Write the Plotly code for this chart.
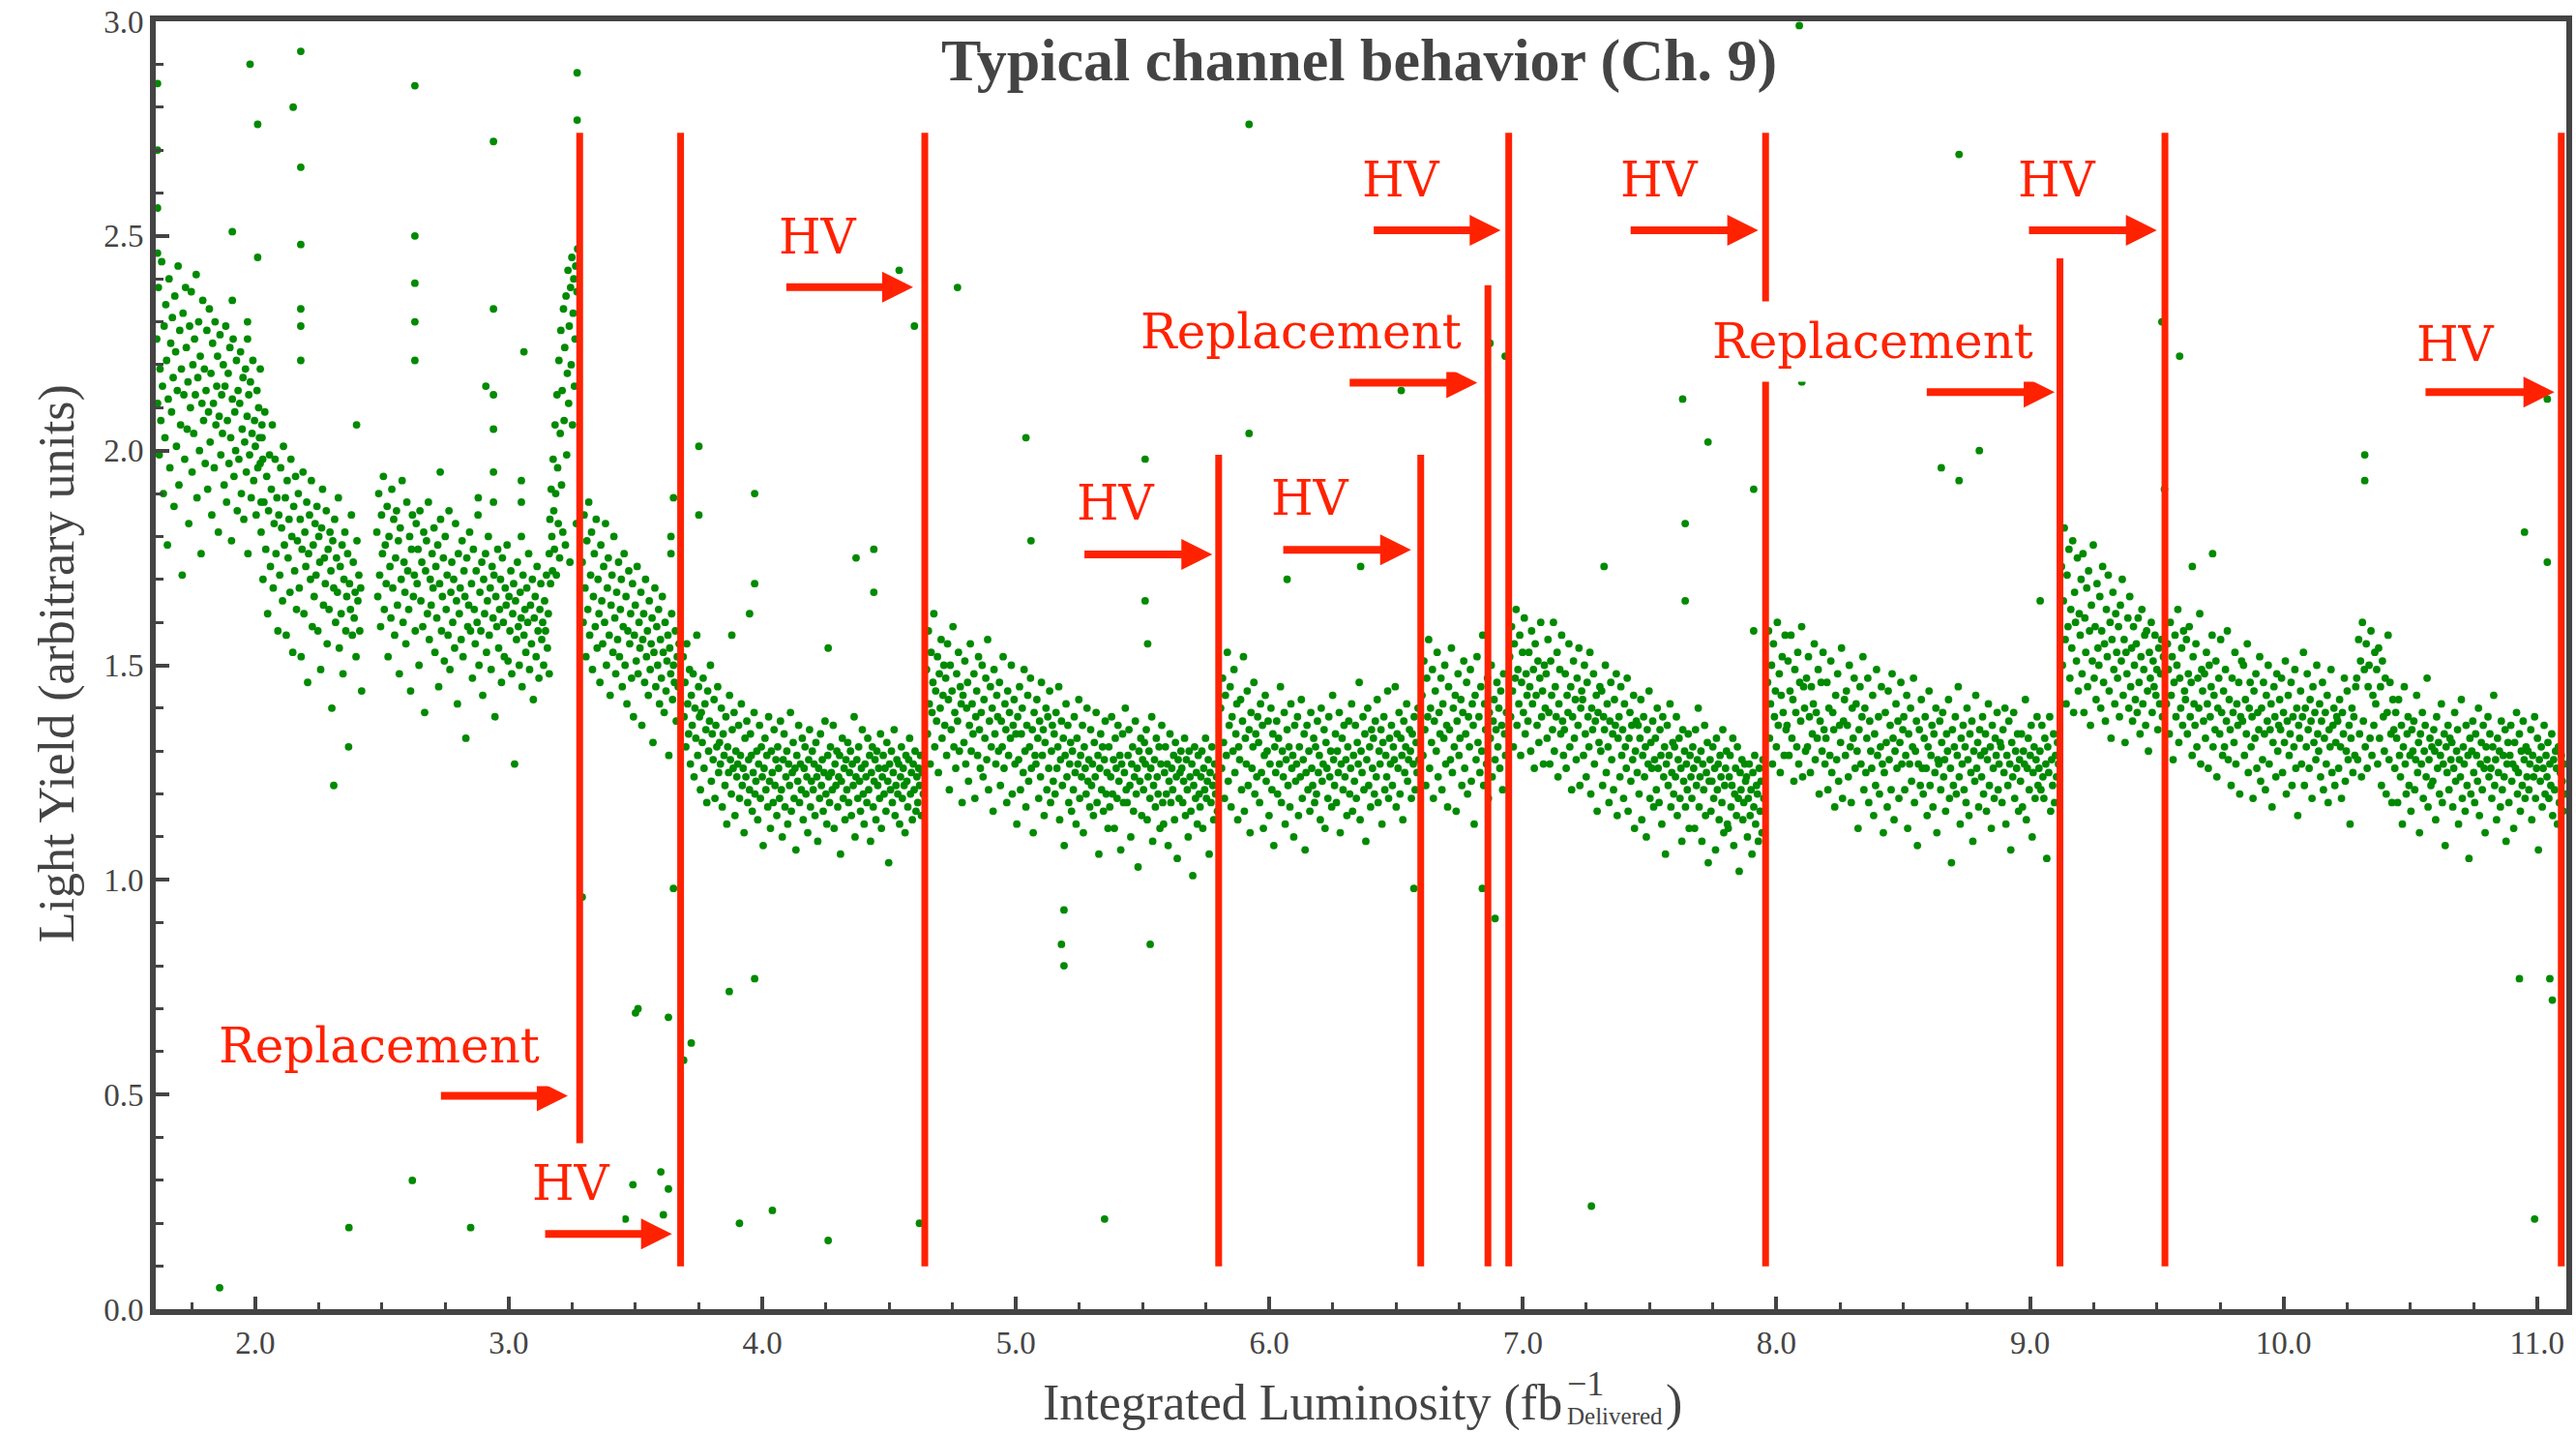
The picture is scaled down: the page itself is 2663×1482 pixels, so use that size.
import numpy as np
import plotly.graph_objects as go

# ---------------- data ----------------
# Main band: light-yield readings (in units of 0.01),
# one list per run segment; x is spread evenly between each segment's bounds.
seg_x0 = [1.612, 2.020, 2.480, 3.160, 3.290, 3.688, 4.648, 5.808, 6.602, 6.948, 7.965, 9.124, 9.538]
seg_x1 = [2.030, 2.420, 3.160, 3.272, 3.672, 4.635, 5.795, 6.590, 6.935, 7.950, 9.112, 9.526, 11.110]

y_A = [226,211,238,199,219,207,244,215,190,229,203,234,221,178,212,240,196,225,209,231,
       217,187,236,223,201,214,243,192,228,206,219,171,232,213,198,238,224,205,216,183,
       229,210,237,195,220,204,226,213,241,189,217,230,200,222,176,211,235,207,219,197,
       214,228,191,209,233,202,218,185,225,211,196,230,206,215,222,181,208,227,199,213,
       204,220,192,215,229,188,207,218,197,224,203,179,212,226,194,209,200,221,186,214,
       198,211,223,190,205,217,184,202,219,195,208,176,213,199,216,189,204,221,193,207,
       201,185,214,196,210,203,219,188,206,198]
y_B = [197,181,203,170,188,209,177,194,162,186,199,173,191,206,168,183,198,176,189,158,
       185,171,196,182,165,201,178,189,157,193,175,184,167,198,180,153,187,172,194,163,
       179,190,168,184,152,177,195,162,181,173,188,146,176,185,170,193,159,178,166,183,
       171,187,158,180,174,149,182,191,164,175,169,186,155,177,163,181,172,140,179,168,
       184,160,175,167,189,154,173,162,178,148,170,181,158,166,176,131,169,163,185,157,
       174,161,167,152,179,165,171,158,168,144]
y_C = [181,166,190,171,159,185,176,194,163,178,169,187,152,180,173,161,191,168,184,157,
       175,186,164,179,148,182,170,193,160,174,167,155,188,172,163,180,144,177,185,166,
       171,158,183,169,177,150,186,165,174,159,181,139,172,179,162,188,156,170,164,176,
       168,182,153,173,161,178,145,169,184,158,166,175,151,180,163,171,157,186,149,167,
       174,160,170,154,183,165,141,176,162,168,156,179,152,172,166,133,175,159,164,181,
       158,169,147,177,163,155,172,160,185,150,167,158,174,143,170,162,176,153,165,180,
       157,168,149,173,161,171,138,166,159,177,154,163,170,146,175,160,152,168,164,178,
       151,166,158,172,148,162,169,127,165,156,174,159,150,167,161,145,171,157,163,153,
       168,160,176,149,164,155,170,142,161,166,152,173,158,147,163,169,156,160,150,165,
       158,171,154,162,148]
y_C2 = [176,184,169,191,180,172,198,186,177,206,190,171,213,196,183,221,175,204,228,192,
        214,181,233,207,224,178,236,199,218,242,211,229,174,238,220,245,206,232,240,215,
        226,243,183,237,247]
y_D = [174,160,185,168,152,179,163,188,157,171,181,149,166,176,159,184,154,170,162,146,
       178,165,155,173,160,183,150,168,175,157,143,164,171,153,180,161,148,167,156,174,
       152,163,170,145,159,176,150,166,141,158,172,155,162,147,169,138,157,164,151,173,
       148,160,154,167,136,156,162,146,170,152,158,143,165,149,155,161,132,153,168,145,
       159,150,163,141,156,147,166,153,139,160,144,151,157,129,154,148,162,142,150,146,
       158,137,152,145,155]
y_E = [152,138,146,131,155,141,134,149,127,143,136,148,124,140,133,157,129,145,138,121,
       139,132,147,126,141,135,118,144,130,137,150,123,134,128,142,119,136,131,145,125,
       132,127,140,117,134,129,122,138,113,131,125,143,128,120,135,126,139,115,130,124,
       127,136,119,129,141,122,126,111,133,124,137,118,128,121,134,129,116,125,139,120,
       123,130,114,127,136,119,131,124,108,126,133,121,129,117,138,123,112,130,125,118,
       135,122,128,115,131,126,119,137,121,110,128,134,117,124,130,113,127,122,139,116,
       125,132,119,126,107,129,123,136,118,127,121,133,114,126,131,120,124,111,128,135,
       117,123,130,121,127,115,132,124,109,126,119,134,122,128,116,125,137,120,113,129,
       124,118,131,125,121,136,112,127,122,130,117,124,129,106,123,133,119,126,114,128,
       121,132,118,125,130,115,127,122,138,110,124,128,119,131,123,116,126,135,120,113,
       127,124,118,133,121,129,109,125,131,117,123,128,114,130,122,126,119,134,112,124,
       129,120,126,116,132,123,104,127,121,130,118,125,135,115,122,128,120,127,113,124,
       131,119,126,122,111,129,123,117,128,133,120,125,114,127,121,130,116,124,118,126,
       122,129,115,125,120]
y_F = [149,134,158,141,127,153,139,146,162,131,144,137,152,125,148,140,156,133,143,150,
       136,147,129,155,142,121,150,135,144,159,131,139,126,148,137,153,130,145,141,118,
       143,132,151,127,140,146,123,136,155,130,141,134,148,119,138,144,129,152,135,126,
       139,150,124,142,133,147,128,156,121,137,145,131,140,116,149,134,127,143,138,130,
       146,122,137,131,152,126,141,135,118,144,129,139,133,150,120,136,142,127,134,113,
       138,128,145,121,134,140,125,149,130,117,136,143,123,131,147,126,135,111,139,129,
       127,142,133,119,137,124,146,129,135,115,132,140,121,138,126,144,118,130,136,123,
       134,120,139,126,131,145,114,128,137,122,133,108,129,141,124,136,118,127,132,116,
       130,121,138,125,113,133,127,142,119,129,124,136,111,131,126,120,140,123,128,117,
       135,122,127,115,132,124,139,118,129,106,126,134,121,131,116,128,137,120,125,112,
       131,117,124,138,120,128,112,133,126,119,136,123,129,107,127,134,118,125,140,121,
       118,129,135,122,110,127,131,116,124,137,120,126,103,130,123,133,115,128,121,132,
       127,135,114,124,130,119,126,138,109,122,128,117,133,124,120,131,112,127,136,118,
       113,125,131,120,127,108,123,134,118,126,121,129,114,132,124,105,128,119,125,130,
       126,118,123,133,115,128,121,110,130,124,116,127,101,122,131,119,125,113,129,120,
       117,124,130,112,126,121,133,119,123,128,106,125,118,131,122,114,127,120,124,116]
y_G = [140,126,147,132,119,143,129,153,123,136,145,117,138,130,149,125,134,141,114,131,
       128,142,121,137,152,116,133,127,144,122,135,111,139,126,131,146,120,134,124,138,
       132,118,141,125,136,112,129,143,123,130,137,115,127,140,121,134,108,131,125,137,
       120,133,127,145,118,130,124,139,113,128,135,122,131,117,141,126,129,110,136,123,
       127,138,115,131,124,142,119,128,134,107,125,136,121,130,116,139,126,122,133,118,
       131,120,137,125,129,114,140,123,127,135,112,132,126,119,138,124,130,117,143,128,
       122,134,118,130,125,139,111,127,133,121,136,124,128,115,131,137,120,126,141,116,
       129,123,136,119,132,127,146,114,130,125,138,121,134,109,128,140,122,131,117,135,
       126,133,120,137,124,142,118,130,127,135,113,132,138,121,129,124,144,119,133,127,
       136,122,131,128,145,117,134,126,139,120,133,129,114,137,125,131,141,123,128,135,
       130,119,134,127,138,121,132,125,140,128]
y_H = [143,129,151,135,122,147,138,156,126,140,132,149,119,137,144,130,153,124,139,134,
       147,121,141,133,150,127,136,117,145,135,128,154,125,140,131,143,116,137,148,129,
       133,142,122,139,151,126,134,146,120,138,131,149,123,141,136,113,143,128,152,132,
       138,125,145,130,157,122,141,135,127,147,119,139,133,150,124,137,142,128,135,146,
       131,140,126,144,136,121,148,134,129,139]
y_I = [152,138,159,144,131,155,147,163,136,149,141,157,129,146,153,139,161,134,148,143,
       137,153,145,130,158,141,149,126,155,143,136,151,132,147,160,138,144,127,150,140,
       148,133,156,139,127,151,143,135,160,130,145,138,153,124,141,149,134,157,137,129,
       135,148,126,143,139,155,131,145,121,138,151,133,142,128,147,136,154,122,140,144,
       142,129,150,134,124,146,138,131,153,120,140,135,148,127,137,143,116,139,132,145,
       130,144,122,138,135,150,125,141,131,118,137,146,128,134,121,142,136,148,115,133,
       138,124,145,129,135,119,141,131,126,147,116,133,139,123,136,128,143,112,130,137,
       125,136,120,133,142,114,129,138,124,131,110,135,127,144,119,132,126,137,117,128,
       133,121,140,126,118,135,129,113,138,124,131,106,127,136,122,129,141,117,125,132,
       120,131,124,138,115,128,133,119,126,109,135,123,130,117,127,121,134,112,129,124,
       119,131,126,112,135,122,128,140,117,124,130,109,127,121,136,115,125,132,104,123,
       128,116,123,131,119,126,107,133,121,127,114,129,124,118,135,111,122,126,130,113,
       112,124,129,117,122,133,108,120,126,115,131,119,102,125,121,128,114,118,127,123,
       124,110,119,127,115,121,106,125,117,129,113,122,120,109,126,116,123,111,128,119]
y_J = [146,158,133,141,150,127,155,138,144,131,160,136,148,125,143,152,139,129,157,135,
       136,151,129,144,157,133,142,123,149,139,131,153,127,146,137,159,124,145,140,130,
       147,131,152,138,125,145,134,141,155,128,139,133,149,120,137,146,130,153,135,127,
       133,146,121,140,129,151,125,139,135,117,143,128,148,123,136,132,154,119,137,142,
       129,144,136,124,150,131,118,140,133,147,126,141,130,112,135,145,127,138,152,121,
       140,125,133,147,118,137,130,126,143,115,134,122,149,129,138,120,131,145,127,111,
       125,139,132,117,144,128,136,121,148,133,114,130,141,126,137,119,132,146,127,135,
       138,121,129,143,112,134,127,140,123,131,147,118,130,137,108,127,135,122,142,126,
       120,133,138,126,115,131,144,122,129,136,117,134,125,140,111,128,127,137,121,132,
       139,124,128,116,134,130,142,119,126,104,135,122,131,138,120,129,145,124,113,133,
       127,136,121,131,118,140,128,115,134,125,137,109,130,123,143,126,132,117,135,129,
       124,138,120,130,134,116,128,141,122,131,112,136,126,119,133,129,139,121,127,132,
       131,118,135,125,140,113,129,122,137,127,107,132,124,139,119,130,126,134,116,128,
       123,134,117,130,127,142,114,126,133,121,129,136,110,125,131,119,128,138,122,126,
       130,121,136,124,119,133,127,105,131,125,138,116,128,122,134,118,129,124,132,127]
y_K = [173,150,165,182,156,141,171,159,177,147,163,154,179,139,167,160,151,175,144,162,
       157,170,148,176,139,161,153,168,145,172,158,136,164,151,178,147,159,142,169,154,
       150,166,140,158,173,146,155,137,163,152,171,144,160,133,156,167,149,141,162,153,
       147,159,138,164,151,170,143,156,132,153,148,161,140,166,145,154,137,159,150,142,
       155,139,161,146,134,152,163,141,149,157,136,158,144,130,153,147,160,139,151,145,
       157,143,149,135,154,141,148,156,138,152]
y_L = [141,155,149,134,160,143,152,128,146,157,138,150,163,132,147,140,154,136,158,144,
       142,156,134,148,159,138,146,129,152,141,136,155,131,147,140,162,127,149,144,137,
       148,133,153,141,126,150,138,145,157,131,143,135,151,124,140,147,134,156,139,129,
       144,131,149,137,158,128,142,135,122,147,139,132,153,127,141,136,146,120,138,151,
       137,150,129,142,134,155,125,140,146,131,138,119,144,133,148,126,139,135,152,123,
       140,128,146,134,121,143,137,150,127,135,141,117,132,145,138,124,148,130,136,142,
       135,147,125,139,132,151,120,137,143,129,134,146,122,138,131,149,126,140,115,136,
       133,144,127,138,153,122,140,131,148,135,126,142,137,119,145,132,139,128,150,134,
       130,141,124,137,146,121,133,139,127,143,118,135,131,149,125,136,140,122,132,138,
       137,126,142,131,119,139,134,147,123,130,144,128,136,113,133,140,125,138,129,145,
       147,128,156,134,151,124,160,137,149,131,155,126,145,150,133,158,129,143,136,153,
       141,149,127,154,133,145,122,151,138,130,147,120,139,157,128,146,134,118,142,135,
       126,139,133,118,142,129,124,136,113,131,145,127,120,134,138,122,129,116,135,130,
       137,121,128,143,125,132,111,134,127,139,119,130,136,124,147,117,128,133,122,131,
       123,135,130,114,138,126,132,120,129,141,118,127,134,108,131,125,136,121,133,128,
       132,117,126,139,123,130,135,113,128,124,142,119,131,127,116,136,122,129,105,133,
       120,130,137,125,118,134,129,123,140,115,127,132,121,136,126,111,131,128,138,124,
       134,126,119,131,143,122,128,114,133,125,130,117,137,121,129,124,135,109,127,132,
       118,129,136,123,127,112,132,126,139,120,125,134,116,130,122,137,128,119,131,124,
       130,121,127,135,114,129,124,138,119,126,133,107,128,123,131,117,126,136,120,129,
       124,132,119,127,122,134,115,128,121,130,126,113,131,118,125,129,123,116,127,120]
segments_y = [y_A, y_B, y_C, y_C2, y_D, y_E, y_F, y_G, y_H, y_I, y_J, y_K, y_L]

# Isolated readings (outliers)
out_x = [1.615,1.615,1.615,1.615,1.98,2.18,2.01,2.15,2.63,3.27,3.27,2.94,2.18,1.91,2.63,2.18,2.01,2.63,2.94,
         2.18,1.91,2.63,2.18,1.97,1.97,2.63,2.18,3.06,2.91,2.94,2.94,2.73,2.94,2.94,2.88,3.05,3.05,3.05,
         2.40,3.75,3.75,3.97,3.97,3.95,3.88,4.37,4.44,4.44,4.26,3.65,3.64,3.64,4.60,4.54,2.31,4.77,5.04,
         5.51,5.06,5.92,5.92,6.36,6.07,6.52,6.87,6.93,7.63,7.73,7.64,7.91,8.10,8.09,8.65,8.72,8.80,9.52,
         9.59,9.53,10.32,10.32,10.95,11.04,11.04,5.51,5.52,7.64,7.32,7.91,9.04,9.72,9.64,8.72,
         3.29,3.51,3.65,1.86,2.37,2.62,2.85,3.49,3.46,3.60,3.63,3.61,3.91,4.04,4.26,3.50,3.63,3.72,
         3.69,3.87,3.97,4.62,5.18,5.19,5.35,5.53,7.27,6.89,5.19,6.84,6.57,10.93,11.05,11.06,10.99]
out_y = [2.855,2.70,2.565,2.46,2.90,2.93,2.76,2.80,2.85,2.88,2.77,2.72,2.66,2.51,2.50,2.48,2.45,2.39,2.33,
         2.33,2.35,2.30,2.29,2.30,2.26,2.21,2.21,2.23,2.15,2.13,2.05,1.95,1.95,1.88,1.89,1.93,1.88,1.80,
         2.06,2.01,1.85,1.90,1.69,1.62,1.57,1.75,1.77,1.67,1.54,1.89,1.80,1.76,2.29,2.42,1.22,2.38,2.03,
         1.98,1.79,2.04,2.76,1.73,1.70,2.14,2.25,2.22,2.12,2.02,1.83,1.91,2.16,2.99,1.96,2.69,2.00,2.30,
         2.22,1.91,1.99,1.93,1.81,2.12,1.74,1.65,1.55,1.65,1.73,1.58,1.65,1.76,1.73,1.93,
         0.96,0.70,0.98,0.05,0.19,0.30,0.19,0.29,0.21,0.32,0.28,0.22,0.20,0.23,0.16,0.69,0.68,0.62,
         0.58,0.74,0.77,0.20,0.85,0.80,0.21,0.85,0.24,0.91,0.93,0.98,0.98,0.77,0.77,0.72,0.21]

# Vertical markers (HV changes / replacements)
line_x      = [3.280, 3.678, 4.641, 5.800, 6.597, 6.862, 6.944, 7.957, 9.118, 9.532, 11.095]
line_top    = [2.74, 2.74, 2.74, 1.99, 1.99, 2.385, 2.74, 2.74, 2.448, 2.74, 2.74]
line_bottom = [0.385, 0.10, 0.10, 0.10, 0.10, 0.10, 0.10, 0.10, 0.10, 0.10, 0.10]

# Arrows and labels
arrow_tail_x = [2.727, 3.138, 4.089, 5.265, 6.049, 6.311, 6.406, 7.419, 8.587, 8.990, 10.554]
arrow_tip_x  = [3.233, 3.644, 4.595, 5.775, 6.559, 6.820, 6.912, 7.928, 9.097, 9.500, 11.068]
arrow_y      = [0.497, 0.175, 2.381, 1.758, 1.769, 2.158, 2.513, 2.513, 2.136, 2.513, 2.136]

label_text = ["Replacement", "HV", "HV", "HV", "HV", "Replacement", "HV", "HV", "Replacement", "HV", "HV"]
label_x    = [2.49, 3.248, 4.218, 5.394, 6.163, 6.125, 6.52, 7.54, 8.381, 9.105, 10.68]
label_y    = [0.612, 0.294, 2.498, 1.877, 1.889, 2.277, 2.63, 2.63, 2.253, 2.63, 2.248]

x_ticks = [2.0, 3.0, 4.0, 5.0, 6.0, 7.0, 8.0, 9.0, 10.0, 11.0]
y_ticks = [0.0, 0.5, 1.0, 1.5, 2.0, 2.5, 3.0]

# ---------------- figure ----------------
W, H = 2663, 1482
ML, MR, MT, MB = 161, 4, 22, 129
RED = "#ff2200"
GREEN = "#008a00"
AXC = "#444444"
SERIF = "Liberation Serif"
RSERIF = "DejaVu Serif"

band_x, band_y = [], []
for x0, x1, ys in zip(seg_x0, seg_x1, segments_y):
    band_x.extend(np.linspace(x0, x1, len(ys)).tolist())
    band_y.extend([v / 100.0 for v in ys])

fig = go.Figure()
fig.add_trace(go.Scatter(x=band_x + out_x, y=band_y + out_y, mode="markers",
                         marker=dict(color=GREEN, size=7.8, line=dict(width=0)),
                         hoverinfo="skip", showlegend=False))

lx, ly = [], []
for x, b, t in zip(line_x, line_bottom, line_top):
    lx += [x, x, None]
    ly += [b, t, None]
fig.add_trace(go.Scatter(x=lx, y=ly, mode="lines", line=dict(color=RED, width=7),
                         hoverinfo="skip", showlegend=False))

ann = []
for tx, hx, ay in zip(arrow_tail_x, arrow_tip_x, arrow_y):
    ann.append(dict(x=hx, y=ay, ax=tx, ay=ay, xref="x", yref="y", axref="x", ayref="y",
                    text="", showarrow=True, arrowhead=2, arrowsize=0.8, arrowwidth=8,
                    arrowcolor=RED, standoff=0, startstandoff=0))
for t, x, y in zip(label_text, label_x, label_y):
    ann.append(dict(x=x, y=y, xref="x", yref="y", text=t, showarrow=False,
                    xanchor="center", yanchor="middle", bgcolor="white", borderpad=12,
                    font=dict(family=RSERIF, size=50, color=RED)))

pw = W - ML - MR
ph = H - MT - MB
def px2paper_x(p):
    return (p - ML) / pw
def py2paper_y(p):
    return (H - MB - p) / ph

# title
ann.append(dict(x=px2paper_x(1408), y=py2paper_y(63), xref="paper", yref="paper",
                text="<b>Typical channel behavior (Ch. 9)</b>", showarrow=False,
                xanchor="center", yanchor="middle",
                font=dict(family=SERIF, size=62, color=AXC)))
# y title
ann.append(dict(x=px2paper_x(59), y=py2paper_y(686), xref="paper", yref="paper",
                text="Light Yield (arbitrary units)", showarrow=False, textangle=-90,
                xanchor="center", yanchor="middle",
                font=dict(family=SERIF, size=52, color=AXC)))
# x title with stacked super/subscript
ann.append(dict(x=px2paper_x(1621), y=py2paper_y(1450), xref="paper", yref="paper",
                text="Integrated Luminosity (fb", showarrow=False,
                xanchor="right", yanchor="middle",
                font=dict(family=SERIF, size=52, color=AXC)))
ann.append(dict(x=px2paper_x(1622), y=py2paper_y(1430), xref="paper", yref="paper",
                text="\u22121", showarrow=False, xanchor="left", yanchor="middle",
                font=dict(family=SERIF, size=36, color=AXC)))
ann.append(dict(x=px2paper_x(1622), y=py2paper_y(1463), xref="paper", yref="paper",
                text="Delivered", showarrow=False, xanchor="left", yanchor="middle",
                font=dict(family=SERIF, size=25, color=AXC)))
ann.append(dict(x=px2paper_x(1724), y=py2paper_y(1450), xref="paper", yref="paper",
                text=")", showarrow=False, xanchor="left", yanchor="middle",
                font=dict(family=SERIF, size=52, color=AXC)))

fig.update_layout(
    width=W, height=H, margin=dict(l=ML, r=MR, t=MT, b=MB, pad=0),
    paper_bgcolor="white", plot_bgcolor="white", showlegend=False,
    annotations=ann,
    xaxis=dict(range=[1.608, 11.115], tickvals=x_ticks, ticktext=[f"{v:.1f}" for v in x_ticks],
               showline=True, linewidth=6, linecolor=AXC, mirror=True,
               ticks="inside", ticklen=13, tickwidth=4, tickcolor=AXC,
               minor=dict(dtick=0.25, tick0=0, ticks="inside", ticklen=7, tickwidth=2.5,
                          tickcolor=AXC, showgrid=False),
               showgrid=False, zeroline=False,
               tickfont=dict(family=SERIF, size=33, color=AXC)),
    yaxis=dict(range=[0, 3.0], tickvals=y_ticks, ticktext=[f"{v:.1f}" for v in y_ticks],
               showline=True, linewidth=6, linecolor=AXC, mirror=True,
               ticks="inside", ticklen=14, tickwidth=4, tickcolor=AXC,
               minor=dict(dtick=0.1, tick0=0, ticks="inside", ticklen=8, tickwidth=2.5,
                          tickcolor=AXC, showgrid=False),
               showgrid=False, zeroline=False,
               tickfont=dict(family=SERIF, size=33, color=AXC)),
)

fig.write_html("out.html", config={"displayModeBar": False})
